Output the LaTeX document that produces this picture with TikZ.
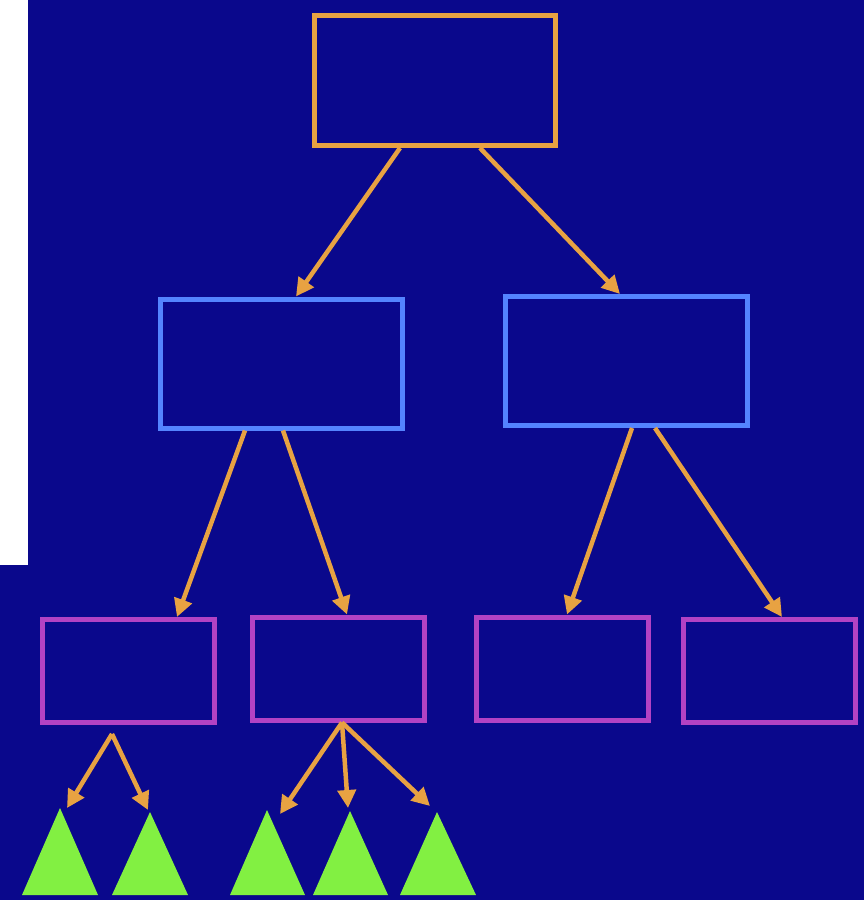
\documentclass[tikz,border=0pt]{standalone}
\usepackage{amssymb,amsmath}
\usetikzlibrary{arrows.meta}
\definecolor{bgblue}{RGB}{10,8,140}
\definecolor{arrorange}{RGB}{232,162,66}
\definecolor{midblue}{RGB}{84,132,255}
\definecolor{leafpurple}{RGB}{178,66,196}
\definecolor{subgreen}{RGB}{130,240,66}
\begin{document}
\begin{tikzpicture}[x=1pt,y=-1pt,
    box/.style={rectangle,draw,line width=5pt,inner sep=0pt},
    rootbox/.style={box,draw=arrorange,minimum width=241pt,minimum height=130pt},
    midbox/.style={box,draw=midblue,minimum width=242pt,minimum height=129pt},
    leafbox/.style={box,draw=leafpurple,minimum width=172pt,minimum height=103pt},
    link/.style={draw=arrorange,line width=4.5pt,-{Triangle[length=18pt,width=18pt]}},
    subtree/.style={fill=subgreen}]
% background
\fill[bgblue] (0,0) rectangle (864,900);
\fill[white] (0,0) rectangle (28,565);
% boxes
\node[rootbox] (r) at (435,80.5) {};
\node[midbox] (m1) at (281.5,363.5) {};
\node[midbox] (m2) at (626,361) {};
\node[leafbox] (l1) at (128,671) {};
\node[leafbox] (l2) at (338.5,668.5) {};
\node[leafbox] (l3) at (562,668.5) {};
\node[leafbox] (l4) at (769.5,671) {};
% subtrees
\foreach \name/\ax/\ay/\xa/\xb in {t1/60/808/22/98, t2/150/812/112/188,
    t3/267/810/230/305, t4/350/811/313/388, t5/437/812/400/476} {
  \fill[subtree] (\ax,\ay) -- (\xb,895) -- (\xa,895) -- cycle;
  \coordinate (\name) at (\ax,\ay);
}
% links
\draw[link] ([xshift=-35pt]r.south) -- ([xshift=14.5pt]m1.north);
\draw[link] ([xshift=45pt]r.south) -- ([xshift=-6pt]m2.north);
\draw[link] ([xshift=-36.5pt]m1.south) -- ([xshift=49pt]l1.north);
\draw[link] ([xshift=1.5pt]m1.south) -- ([xshift=8.5pt]l2.north);
\draw[link] ([xshift=6pt]m2.south) -- ([xshift=5pt]l3.north);
\draw[link] ([xshift=29pt]m2.south) -- ([xshift=12.5pt]l4.north);
\draw[link] ([xshift=-16pt,yshift=-9pt]l1.south) -- ([xshift=7pt]t1);
\draw[link] ([xshift=-16pt,yshift=-9pt]l1.south) -- ([xshift=-2pt,yshift=2pt]t2);
\draw[link] ([xshift=3.5pt]l2.south) -- ([xshift=13pt,yshift=-4pt]t3);
\draw[link] ([xshift=3.5pt]l2.south) -- ([xshift=-2pt,yshift=3pt]t4);
\draw[link] ([xshift=3.5pt]l2.south) -- ([xshift=-7pt,yshift=6pt]t5);
\end{tikzpicture}
\end{document}
